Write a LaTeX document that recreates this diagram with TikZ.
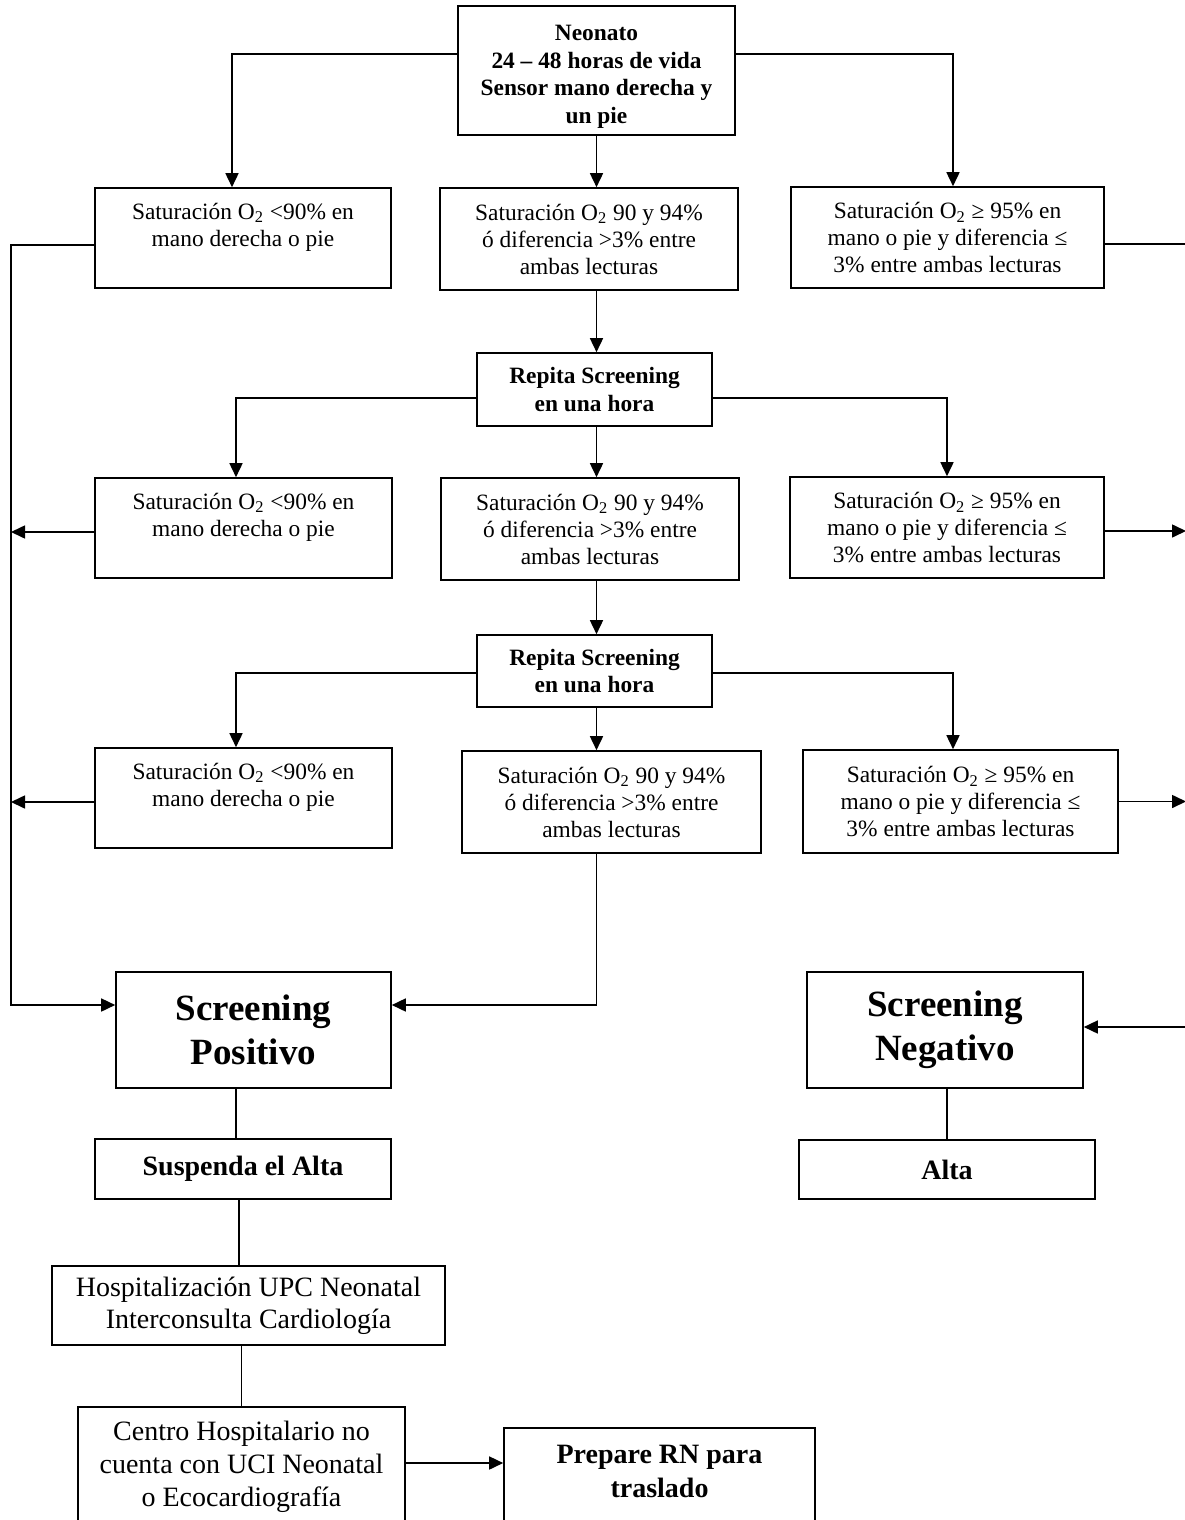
\documentclass[tikz,border=0pt]{standalone}
\usepackage{fontspec}
\setmainfont{Liberation Serif}
\usetikzlibrary{arrows.meta}
\newcommand{\nrm}{\fontsize{11.7}{13.5}\selectfont}
\newcommand{\bld}{\fontsize{11.7}{13.75}\selectfont\bfseries}
\begin{document}
\begin{tikzpicture}[x=0.5pt,y=-0.5pt,
  bx/.style={draw, line width=0.8pt, inner sep=0pt, align=center, anchor=center},
  nb/.style={bx, font=\nrm},
  bb/.style={bx, font=\bld},
  arr/.style={line width=0.8pt, -{Triangle[length=7pt,width=6.5pt]}},
  ln/.style={line width=0.6pt}]
\useasboundingbox (0,0) rectangle (1184,1520);
\fill[white] (0,0) rectangle (1184,1520);

% top
\node[bb, minimum width=138.5pt, minimum height=64.5pt] (neo) at (596.5,70.5)
  {\rule{0pt}{14pt}Neonato\\24 – 48 horas de vida\\Sensor mano derecha y\\un pie};

% row 1
\node[nb, minimum width=148pt, minimum height=50pt] (l1) at (243,238)
  {Saturación O\textsubscript{2} <90\% en\\mano derecha o pie\\\mbox{}};
\node[nb, minimum width=149pt, minimum height=51pt] (c1) at (589,239)
  {Saturación O\textsubscript{2} 90 y 94\%\\ó diferencia >3\% entre\\ambas lecturas};
\node[nb, minimum width=156.5pt, minimum height=50.5pt] (r1) at (947.5,237.5)
  {Saturación O\textsubscript{2} ≥ 95\% en\\mano o pie y diferencia ≤\\3\% entre ambas lecturas};

% repeat 1
\node[bb, minimum width=117.5pt, minimum height=36.5pt] (rep1) at (594.5,389.5)
  {Repita Screening\\en una hora};

% row 2
\node[nb, minimum width=148.5pt, minimum height=50pt] (l2) at (243.5,528)
  {Saturación O\textsubscript{2} <90\% en\\mano derecha o pie\\\mbox{}};
\node[nb, minimum width=149pt, minimum height=51pt] (c2) at (590,529)
  {Saturación O\textsubscript{2} 90 y 94\%\\ó diferencia >3\% entre\\ambas lecturas};
\node[nb, minimum width=157pt, minimum height=50.5pt] (r2) at (947,527.5)
  {Saturación O\textsubscript{2} ≥ 95\% en\\mano o pie y diferencia ≤\\3\% entre ambas lecturas};

% repeat 2
\node[bb, minimum width=117.5pt, minimum height=36pt] (rep2) at (594.5,671)
  {Repita Screening\\en una hora};

% row 3
\node[nb, minimum width=148.5pt, minimum height=50pt] (l3) at (243.5,798)
  {Saturación O\textsubscript{2} <90\% en\\mano derecha o pie\\\mbox{}};
\node[nb, minimum width=149.5pt, minimum height=51pt] (c3) at (611.5,802)
  {Saturación O\textsubscript{2} 90 y 94\%\\ó diferencia >3\% entre\\ambas lecturas};
\node[nb, minimum width=157.5pt, minimum height=51.5pt] (r3) at (960.5,801.5)
  {Saturación O\textsubscript{2} ≥ 95\% en\\mano o pie y diferencia ≤\\3\% entre ambas lecturas};

% results
\node[bx, font=\fontsize{18.5}{22}\selectfont\bfseries, minimum width=137.5pt, minimum height=58pt] (sp) at (253.5,1030)
  {Screening\\Positivo};
\node[bx, font=\fontsize{18.5}{22}\selectfont\bfseries, minimum width=138pt, minimum height=58pt] (sn) at (945,1030)
  {Screening\\Negativo};
\node[bx, font=\fontsize{14}{16}\selectfont\bfseries, minimum width=148pt, minimum height=30pt] (susp) at (243,1169)
  {Suspenda el Alta};
\node[bx, font=\fontsize{14}{16}\selectfont\bfseries, minimum width=148pt, minimum height=29.5pt] (alta) at (947,1169.5)
  {Alta};
\node[bx, font=\fontsize{14}{16}\selectfont, minimum width=196.5pt, minimum height=39.5pt] (hosp) at (248.5,1305.5)
  {Hospitalización UPC Neonatal\\Interconsulta Cardiología};
\node[bx, font=\fontsize{14}{16.5}\selectfont, minimum width=163.5pt, minimum height=60pt] (centro) at (241.5,1467)
  {Centro Hospitalario no\\cuenta con UCI Neonatal\\o Ecocardiografía};
\node[bx, font=\fontsize{14}{17}\selectfont\bfseries, minimum width=155.5pt, minimum height=60pt] (prep) at (659.5,1488)
  {Prepare RN para\\traslado\\\mbox{}};

% helper coordinates
\coordinate (lx) at (11,0);
\coordinate (rx) at (1186,0);
\coordinate (spin) at ([yshift=12.5pt]sp.west);
\coordinate (spin2) at ([yshift=12.5pt]sp.east);
\coordinate (snin) at ([yshift=1.5pt]sn.east);
\coordinate (l2o) at ([yshift=-2pt]l2.west);
\coordinate (l3o) at ([yshift=-2pt]l3.west);
\coordinate (r2o) at ([yshift=-1.75pt]r2.east);
\coordinate (r3o) at (r3.east);
\coordinate (ceo) at ([yshift=2pt]centro.east);

% from neonato
\draw[arr] ([yshift=8.25pt]neo.west) -| ([xshift=-5.5pt]l1.north);
\draw[arr] (neo.south) -- (neo.south |- c1.north);
\draw[arr] ([yshift=8.25pt]neo.east) -| ([xshift=2.75pt]r1.north);

% center chain
\draw[arr] (neo.south |- c1.south) -- (neo.south |- rep1.north);
\draw[arr] ([yshift=-4.25pt]rep1.west) -| ([xshift=-3.75pt]l2.north);
\draw[arr] (neo.south |- rep1.south) -- (neo.south |- c2.north);
\draw[arr] ([yshift=-4.25pt]rep1.east) -| (r2.north);
\draw[arr] (neo.south |- c2.south) -- (neo.south |- rep2.north);
\draw[arr] ([yshift=-1pt]rep2.west) -| ([xshift=-3.75pt]l3.north);
\draw[arr] (neo.south |- rep2.south) -- (neo.south |- c3.north);
\draw[arr] ([yshift=-1pt]rep2.east) -| ([xshift=-3.75pt]r3.north);

% left collector
\draw[arr] ([yshift=-3.5pt]l1.west) -| (lx |- spin) -- (spin);
\draw[arr] (l2o) -- (lx |- l2o);
\draw[arr] (l3o) -- (lx |- l3o);
\draw[arr] (neo.south |- c3.south) -- (neo.south |- spin2) -- (spin2);

% right collector
\draw[arr] ([yshift=-3.25pt]r1.east) -| (rx |- snin) -- (snin);
\draw[arr] (r2o) -- (rx |- r2o);
\draw[arr] (r3o) -- (rx |- r3o);

% lower chain
\draw[ln] ([xshift=-8.75pt]sp.south) -- ([xshift=-8.75pt]sp.south |- susp.north);
\draw[ln] ([xshift=-2pt]susp.south) -- ([xshift=-2pt]susp.south |- hosp.north);
\draw[ln] ([xshift=-3.5pt]hosp.south) -- ([xshift=-3.5pt]hosp.south |- centro.north);
\draw[arr] (ceo) -- (ceo -| prep.west);
\draw[ln] ([xshift=1pt]sn.south) -- ([xshift=1pt]sn.south |- alta.north);
\end{tikzpicture}
\end{document}
